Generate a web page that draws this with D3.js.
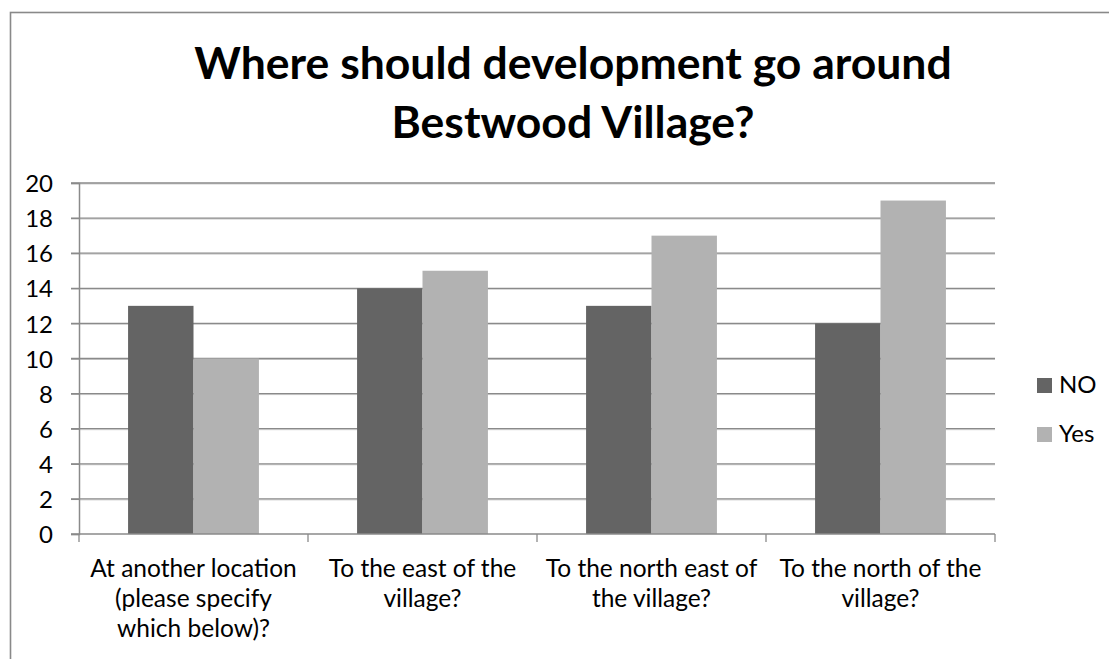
<!DOCTYPE html>
<html>
<head>
<meta charset="utf-8">
<script src="https://cdn.jsdelivr.net/npm/d3@7"></script>
<style>
  html, body { margin: 0; padding: 0; background: #fff; }
  svg { display: block; font-family: Lato, "Open Sans", sans-serif; }
</style>
</head>
<body>
<svg id="chart" width="1109" height="659"></svg>
<script>
// Survey responses per proposed development location
const categories = [
  ["At another location", "(please specify", "which below)?"],
  ["To the east of the", "village?"],
  ["To the north east of", "the village?"],
  ["To the north of the", "village?"]
];
const seriesNames = ["NO", "Yes"];
const noValues = [13, 14, 13, 12];
const yesValues = [10, 15, 17, 19];
const yTicks = [0, 2, 4, 6, 8, 10, 12, 14, 16, 18, 20];
const titleLines = ["Where should development go around", "Bestwood Village?"];
const colors = ["#646464", "#b2b2b2"];

const svg = d3.select("#chart");

// chart frame (runs off the right and bottom edges)
svg.append("rect")
  .attr("x", 10.5).attr("y", 12.5)
  .attr("width", 1200).attr("height", 800)
  .attr("fill", "#fff")
  .attr("stroke", "#898989").attr("stroke-width", 1.6);

// title
svg.append("g").selectAll("text")
  .data(titleLines)
  .join("text")
  .attr("x", 573)
  .attr("y", (d, i) => 79 + i * 59)
  .attr("text-anchor", "middle")
  .attr("font-size", 44.5)
  .attr("font-weight", 700)
  .attr("fill", "#000")
  .text(d => d);

const plot = { left: 79, right: 995, top: 183, bottom: 534 };

const x0 = d3.scaleBand()
  .domain(d3.range(categories.length))
  .range([plot.left, plot.right])
  .paddingInner(0).paddingOuter(0);

const x1 = d3.scaleBand()
  .domain(seriesNames)
  .range([0, x0.bandwidth()])
  .paddingInner(0)
  .paddingOuter(0.75);

const y = d3.scaleLinear().domain([0, 20]).range([plot.bottom, plot.top]);

// horizontal gridlines (dark line with light lower edge)
const grid = svg.append("g");
grid.selectAll("line.light")
  .data(yTicks.filter(t => t > 0))
  .join("line")
  .attr("class", "light")
  .attr("x1", plot.left).attr("x2", plot.right)
  .attr("y1", d => y(d) + 1).attr("y2", d => y(d) + 1)
  .attr("stroke", "#cfcfcf").attr("stroke-width", 1);
grid.selectAll("line.dark")
  .data(yTicks.filter(t => t > 0))
  .join("line")
  .attr("class", "dark")
  .attr("x1", plot.left - 8).attr("x2", plot.right)
  .attr("y1", d => y(d)).attr("y2", d => y(d))
  .attr("stroke", "#8a8a8a").attr("stroke-width", 1.3);

// bars
const rows = categories.map((c, i) => ({ i, values: [noValues[i], yesValues[i]] }));
svg.append("g").selectAll("g")
  .data(rows)
  .join("g")
  .attr("transform", d => `translate(${x0(d.i)},0)`)
  .selectAll("rect")
  .data(d => d.values.map((v, k) => ({ name: seriesNames[k], v, k })))
  .join("rect")
  .attr("x", d => x1(d.name))
  .attr("y", d => y(d.v))
  .attr("width", x1.bandwidth())
  .attr("height", d => y(0) - y(d.v))
  .attr("fill", d => colors[d.k]);

// y axis
const yAxis = svg.append("g")
  .attr("transform", `translate(${plot.left},0)`)
  .call(d3.axisLeft(y).tickValues(yTicks).tickSize(8).tickPadding(18).tickFormat(d3.format("d")));
yAxis.select(".domain").attr("stroke", "#8a8a8a").attr("stroke-width", 1.5);
yAxis.selectAll(".tick line").attr("stroke", "#8a8a8a").attr("stroke-width", 1.3);
yAxis.selectAll(".tick text")
  .attr("font-size", 24).attr("fill", "#000")
  .attr("font-family", "Lato, 'Open Sans', sans-serif")
  .attr("dy", "0.36em");

// x axis with ticks at category boundaries
const boundaries = d3.range(categories.length + 1).map(i => plot.left + i * x0.bandwidth());
const xAxisG = svg.append("g");
xAxisG.append("line")
  .attr("x1", plot.left - 8).attr("x2", plot.right)
  .attr("y1", plot.bottom).attr("y2", plot.bottom)
  .attr("stroke", "#8a8a8a").attr("stroke-width", 1.5);
xAxisG.selectAll("line.tick")
  .data(boundaries)
  .join("line")
  .attr("class", "tick")
  .attr("x1", d => d).attr("x2", d => d)
  .attr("y1", plot.bottom).attr("y2", plot.bottom + 8)
  .attr("stroke", "#8a8a8a").attr("stroke-width", 1.3);

// category labels
xAxisG.selectAll("text")
  .data(categories)
  .join("text")
  .attr("x", (d, i) => x0(i) + x0.bandwidth() / 2)
  .attr("y", 577)
  .attr("text-anchor", "middle")
  .attr("font-size", 24.5)
  .attr("fill", "#000")
  .selectAll("tspan")
  .data(d => d)
  .join("tspan")
  .attr("x", function () { return this.parentNode.getAttribute("x"); })
  .attr("dy", (d, i) => i === 0 ? 0 : 30)
  .text(d => d);

// legend
const legend = svg.append("g").attr("transform", "translate(1037,378)");
const items = legend.selectAll("g")
  .data(seriesNames)
  .join("g")
  .attr("transform", (d, i) => `translate(0,${i * 49})`);
items.append("rect")
  .attr("width", 15).attr("height", 15)
  .attr("fill", (d, i) => colors[i]);
items.append("text")
  .attr("x", 22).attr("y", 15)
  .attr("font-size", 24).attr("fill", "#000")
  .text(d => d);
</script>
</body>
</html>
